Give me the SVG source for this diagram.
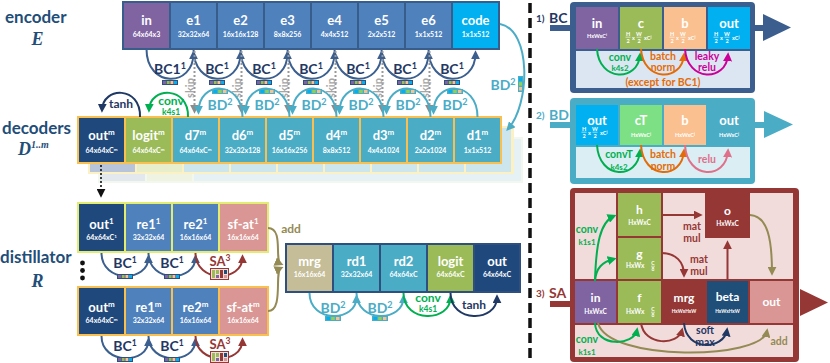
<svg xmlns="http://www.w3.org/2000/svg" width="830" height="363" viewBox="0 0 830 363">
<defs>
<style>
text{font-family:Lato,"Liberation Sans",Arial,sans-serif;font-weight:bold}
.c{text-anchor:middle}
.w{fill:#fff}
.L{font-size:13px}
.M{font-size:12px}
.N{font-size:10.5px}
.S{font-size:7px}
.T{font-size:5.5px}
.U{font-size:4.8px}
.lab{font-size:17px;fill:#1f4e79}
.it{font-family:"Liberation Serif","DejaVu Serif",serif;font-style:italic;font-weight:bold;fill:#1f4e79}
.a{fill:none;stroke-width:2}
.nb{stroke:#3b5f8f}
.tl{stroke:#4bacc6}
.gr{stroke:#00b050}
.nv{stroke:#1f3864}
.dr{stroke:#953735}
.ol{stroke:#948a54}
.or{stroke:#e36c09}
.mg{stroke:#cc0099}
.pk{stroke:#e0708a}
.fbc{fill:#1f3864;font-size:14px}
.fbd{fill:#4bacc6;font-size:14px}
.fgr{fill:#00b050}
.fnv{fill:#1f3864}
.fdr{fill:#953735}
.fol{fill:#948a54}
.for{fill:#e36c09}
.fmg{fill:#cc0099}
.fpk{fill:#e0708a}
.skip{fill:none;stroke:#999;stroke-width:2;stroke-dasharray:2 2}
.skt{fill:#a6a6a6;font-size:11px}
.fl{stroke:#fff;stroke-width:0.6}
</style>
<marker id="mNb" viewBox="0 0 10 10" refX="7" refY="5" markerWidth="9" markerHeight="9" markerUnits="userSpaceOnUse" orient="auto"><path d="M0,0L10,5L0,10z" fill="#3b5f8f"/></marker>
<marker id="mTl" viewBox="0 0 10 10" refX="7" refY="5" markerWidth="9" markerHeight="9" markerUnits="userSpaceOnUse" orient="auto"><path d="M0,0L10,5L0,10z" fill="#4bacc6"/></marker>
<marker id="mGr" viewBox="0 0 10 10" refX="7" refY="5" markerWidth="9" markerHeight="9" markerUnits="userSpaceOnUse" orient="auto"><path d="M0,0L10,5L0,10z" fill="#00b050"/></marker>
<marker id="mNv" viewBox="0 0 10 10" refX="7" refY="5" markerWidth="9" markerHeight="9" markerUnits="userSpaceOnUse" orient="auto"><path d="M0,0L10,5L0,10z" fill="#1f3864"/></marker>
<marker id="mDr" viewBox="0 0 10 10" refX="7" refY="5" markerWidth="9" markerHeight="9" markerUnits="userSpaceOnUse" orient="auto"><path d="M0,0L10,5L0,10z" fill="#953735"/></marker>
<marker id="mOl" viewBox="0 0 10 10" refX="7" refY="5" markerWidth="9" markerHeight="9" markerUnits="userSpaceOnUse" orient="auto"><path d="M0,0L10,5L0,10z" fill="#948a54"/></marker>
<marker id="mOr" viewBox="0 0 10 10" refX="7" refY="5" markerWidth="9" markerHeight="9" markerUnits="userSpaceOnUse" orient="auto"><path d="M0,0L10,5L0,10z" fill="#e36c09"/></marker>
<marker id="mMg" viewBox="0 0 10 10" refX="7" refY="5" markerWidth="9" markerHeight="9" markerUnits="userSpaceOnUse" orient="auto"><path d="M0,0L10,5L0,10z" fill="#cc0099"/></marker>
<marker id="mPk" viewBox="0 0 10 10" refX="7" refY="5" markerWidth="9" markerHeight="9" markerUnits="userSpaceOnUse" orient="auto"><path d="M0,0L10,5L0,10z" fill="#e0708a"/></marker>
<marker id="mGy" viewBox="0 0 10 10" refX="7" refY="5" markerWidth="9" markerHeight="9" markerUnits="userSpaceOnUse" orient="auto"><path d="M0,0L10,5L0,10z" fill="#8c8c8c"/></marker>
<marker id="mBk" viewBox="0 0 10 10" refX="7" refY="5" markerWidth="9" markerHeight="9" markerUnits="userSpaceOnUse" orient="auto"><path d="M0,0L10,5L0,10z" fill="#111"/></marker>
<g id="bcs"><rect width="16" height="5" fill="#2f4f7f"/><rect x="1" y="1" width="3" height="3" fill="#8064a2"/><rect x="4.7" y="1" width="3" height="3" fill="#9bbb59"/><rect x="8.4" y="1" width="3" height="3" fill="#fac090"/><rect x="12" y="1" width="3" height="3" fill="#00b0f0"/></g>
<g id="bds"><rect width="16" height="5" fill="#4bacc6"/><rect x="1.5" y="1" width="3.5" height="3" fill="#00b0f0"/><rect x="6.2" y="1" width="3.5" height="3" fill="#92d050"/><rect x="11" y="1" width="3.5" height="3" fill="#fac090"/></g>
<g id="sai"><rect x="0.5" y="0.5" width="18" height="11" fill="#f2dcdb" stroke="#953735"/><rect x="2" y="2" width="3" height="8" fill="#9bbb59"/><rect x="6" y="2" width="3" height="4" fill="#9bbb59"/><rect x="6" y="7" width="3" height="3" fill="#8064a2"/><rect x="10" y="2" width="3" height="8" fill="#953735"/><rect x="14" y="2" width="3" height="4" fill="#1f4e79"/><rect x="14" y="7" width="3" height="3" fill="#d99694"/></g>
<g id="frac"><text class="c w T" x="-13" y="36">H</text><line class="fl" x1="-15.5" y1="37.2" x2="-10.5" y2="37.2"/><text class="c w T" x="-13" y="42.5">2</text><text class="c w T" x="-7.5" y="39.5">x</text><text class="c w T" x="-2" y="36">W</text><line class="fl" x1="-4.5" y1="37.2" x2="0.5" y2="37.2"/><text class="c w T" x="-2" y="42.5">2</text><text class="w T" x="3" y="39.5">xC<tspan font-size="4" dy="-2">j</tspan></text></g>
</defs>

<!-- left labels -->
<g id="labels">
<text class="lab" x="5" y="23">encoder</text>
<text class="it c" x="37.5" y="45" font-size="18">E</text>
<text class="lab" x="2" y="134">decoders</text>
<text class="it" x="18" y="155" font-size="18">D<tspan font-size="10" dy="-7">1..m</tspan></text>
<text class="lab" x="0" y="263">distillator</text>
<text class="it c" x="37.5" y="287" font-size="18">R</text>
</g>

<!-- encoder -->
<g id="encoder">
<rect x="122" y="1" width="378" height="49" fill="#385d8a"/>
<g id="enc-in"><rect x="124" y="3" width="45" height="45" fill="#8064a2"/><text class="c w L" x="146.5" y="25">in</text><text class="c w S" x="146.5" y="37">64x64x3</text></g>
<g id="enc-e1"><rect x="171" y="3" width="45" height="45" fill="#4f81bd"/><text class="c w L" x="193.5" y="25">e1</text><text class="c w S" x="193.5" y="37">32x32x64</text></g>
<g id="enc-e2"><rect x="218" y="3" width="45" height="45" fill="#4f81bd"/><text class="c w L" x="240.5" y="25">e2</text><text class="c w S" x="240.5" y="37">16x16x128</text></g>
<g id="enc-e3"><rect x="265" y="3" width="45" height="45" fill="#4f81bd"/><text class="c w L" x="287.5" y="25">e3</text><text class="c w S" x="287.5" y="37">8x8x256</text></g>
<g id="enc-e4"><rect x="312" y="3" width="45" height="45" fill="#4f81bd"/><text class="c w L" x="334.5" y="25">e4</text><text class="c w S" x="334.5" y="37">4x4x512</text></g>
<g id="enc-e5"><rect x="359" y="3" width="45" height="45" fill="#4f81bd"/><text class="c w L" x="381.5" y="25">e5</text><text class="c w S" x="381.5" y="37">2x2x512</text></g>
<g id="enc-e6"><rect x="406" y="3" width="45" height="45" fill="#4f81bd"/><text class="c w L" x="428.5" y="25">e6</text><text class="c w S" x="428.5" y="37">1x1x512</text></g>
<g id="enc-code"><rect x="453" y="3" width="45" height="45" fill="#00b0f0"/><text class="c w L" x="475.5" y="25">code</text><text class="c w S" x="475.5" y="37">1x1x512</text></g>
</g>

<!-- decoder shadow layers -->
<g id="decoder-stack">
<rect x="98" y="137" width="425" height="46" fill="#f3f8ee"/>
<rect x="100" y="139" width="45" height="42" fill="#e3e8ef"/><rect x="147" y="139" width="45" height="42" fill="#eef3e2"/>
<rect x="194" y="139" width="327" height="42" fill="#e6f1f5"/>
<rect x="88" y="126" width="426" height="48" fill="#fbf1c4"/>
<rect x="90" y="128" width="45" height="44" fill="#b8c4d9"/><rect x="137" y="128" width="45" height="44" fill="#e8eecb"/>
<rect x="184" y="128" width="45" height="44" fill="#cde6ee"/><rect x="231" y="128" width="45" height="44" fill="#cde6ee"/><rect x="278" y="128" width="45" height="44" fill="#cde6ee"/><rect x="325" y="128" width="45" height="44" fill="#cde6ee"/><rect x="372" y="128" width="45" height="44" fill="#cde6ee"/><rect x="419" y="128" width="45" height="44" fill="#cde6ee"/><rect x="466" y="128" width="45" height="44" fill="#cde6ee"/>
</g>

<!-- decoder -->
<g id="decoder">
<rect x="77" y="116" width="425" height="48" fill="#f9c04f"/>
<g id="dec-out"><rect x="79" y="118" width="45" height="44" fill="#1f497d"/><text class="c w L" x="101.5" y="140">out<tspan font-size="8" dy="-5">m</tspan></text><text class="c w S" x="101.5" y="153">64x64xC<tspan font-size="4.5" dy="-2.5">m</tspan></text></g>
<g id="dec-logit"><rect x="126" y="118" width="45" height="44" fill="#9bbb59"/><text class="c w L" x="148.5" y="140">logit<tspan font-size="8" dy="-5">m</tspan></text><text class="c w S" x="148.5" y="153">64x64xC<tspan font-size="4.5" dy="-2.5">m</tspan></text></g>
<g id="dec-d7"><rect x="173" y="118" width="45" height="44" fill="#4bacc6"/><text class="c w L" x="195.5" y="140">d7<tspan font-size="8" dy="-5">m</tspan></text><text class="c w S" x="195.5" y="153">64x64xC<tspan font-size="4.5" dy="-2.5">m</tspan></text></g>
<g id="dec-d6"><rect x="220" y="118" width="45" height="44" fill="#4bacc6"/><text class="c w L" x="242.5" y="140">d6<tspan font-size="8" dy="-5">m</tspan></text><text class="c w S" x="242.5" y="153">32x32x128</text></g>
<g id="dec-d5"><rect x="267" y="118" width="45" height="44" fill="#4bacc6"/><text class="c w L" x="289.5" y="140">d5<tspan font-size="8" dy="-5">m</tspan></text><text class="c w S" x="289.5" y="153">16x16x256</text></g>
<g id="dec-d4"><rect x="314" y="118" width="45" height="44" fill="#4bacc6"/><text class="c w L" x="336.5" y="140">d4<tspan font-size="8" dy="-5">m</tspan></text><text class="c w S" x="336.5" y="153">8x8x512</text></g>
<g id="dec-d3"><rect x="361" y="118" width="45" height="44" fill="#4bacc6"/><text class="c w L" x="383.5" y="140">d3<tspan font-size="8" dy="-5">m</tspan></text><text class="c w S" x="383.5" y="153">4x4x1024</text></g>
<g id="dec-d2"><rect x="408" y="118" width="45" height="44" fill="#4bacc6"/><text class="c w L" x="430.5" y="140">d2<tspan font-size="8" dy="-5">m</tspan></text><text class="c w S" x="430.5" y="153">2x2x1024</text></g>
<g id="dec-d1"><rect x="455" y="118" width="45" height="44" fill="#4bacc6"/><text class="c w L" x="477.5" y="140">d1<tspan font-size="8" dy="-5">m</tspan></text><text class="c w S" x="477.5" y="153">1x1x512</text></g>
</g>

<!-- distillator row 1 -->
<g id="dist-row1">
<rect x="77" y="202" width="192" height="51" fill="#e2ec70"/>
<g id="r1-out"><rect x="79" y="204" width="45" height="47" fill="#1f497d"/><text class="c w L" x="101.5" y="229">out<tspan font-size="8" dy="-5">1</tspan></text><text class="c w S" x="101.5" y="240">64x64xC<tspan font-size="4.5" dy="-2.5">1</tspan></text></g>
<g id="r1-re1"><rect x="126" y="204" width="45" height="47" fill="#4f81bd"/><text class="c w L" x="148.5" y="229">re1<tspan font-size="8" dy="-5">1</tspan></text><text class="c w S" x="148.5" y="240">32x32x64</text></g>
<g id="r1-re2"><rect x="173" y="204" width="45" height="47" fill="#4f81bd"/><text class="c w L" x="195.5" y="229">re2<tspan font-size="8" dy="-5">1</tspan></text><text class="c w S" x="195.5" y="240">16x16x64</text></g>
<g id="r1-sfat"><rect x="220" y="204" width="47" height="47" fill="#d99694"/><text class="c w L" x="243" y="229">sf-at<tspan font-size="8" dy="-5">1</tspan></text><text class="c w S" x="243" y="240">16x16x64</text></g>
</g>
<g id="dots"><circle cx="82.5" cy="263" r="2.4" fill="#111"/><circle cx="82.5" cy="270.5" r="2.4" fill="#111"/><circle cx="82.5" cy="278" r="2.4" fill="#111"/></g>
<!-- distillator row m -->
<g id="dist-rowm">
<rect x="77" y="286" width="192" height="50" fill="#f9c04f"/>
<g id="rm-out"><rect x="79" y="288" width="45" height="46" fill="#1f497d"/><text class="c w L" x="101.5" y="312">out<tspan font-size="8" dy="-5">m</tspan></text><text class="c w S" x="101.5" y="323">64x64xC<tspan font-size="4.5" dy="-2.5">m</tspan></text></g>
<g id="rm-re1"><rect x="126" y="288" width="45" height="46" fill="#4f81bd"/><text class="c w L" x="148.5" y="312">re1<tspan font-size="8" dy="-5">m</tspan></text><text class="c w S" x="148.5" y="323">32x32x64</text></g>
<g id="rm-re2"><rect x="173" y="288" width="45" height="46" fill="#4f81bd"/><text class="c w L" x="195.5" y="312">re2<tspan font-size="8" dy="-5">m</tspan></text><text class="c w S" x="195.5" y="323">16x16x64</text></g>
<g id="rm-sfat"><rect x="220" y="288" width="47" height="46" fill="#d99694"/><text class="c w L" x="243" y="312">sf-at<tspan font-size="8" dy="-5">m</tspan></text><text class="c w S" x="243" y="323">16x16x64</text></g>
</g>

<!-- final row -->
<g id="final-row">
<rect x="285" y="243" width="236" height="50" fill="#2f4f7f"/>
<g id="f-mrg"><rect x="287" y="245" width="45" height="46" fill="#c4bd97"/><text class="c w L" x="309.5" y="266">mrg</text><text class="c w S" x="309.5" y="277">16x16x64</text></g>
<g id="f-rd1"><rect x="334" y="245" width="45" height="46" fill="#4bacc6"/><text class="c w L" x="356.5" y="266">rd1</text><text class="c w S" x="356.5" y="277">32x32x64</text></g>
<g id="f-rd2"><rect x="381" y="245" width="45" height="46" fill="#4bacc6"/><text class="c w L" x="403.5" y="266">rd2</text><text class="c w S" x="403.5" y="277">64x64xC</text></g>
<g id="f-logit"><rect x="428" y="245" width="45" height="46" fill="#9bbb59"/><text class="c w L" x="450.5" y="266">logit</text><text class="c w S" x="450.5" y="277">64x64xC</text></g>
<g id="f-out"><rect x="475" y="245" width="44" height="46" fill="#1f497d"/><text class="c w L" x="497" y="266">out</text><text class="c w S" x="497" y="277">64x64xC</text></g>
</g>

<!-- connectors -->
<g id="connectors">
<path class="a nb" marker-end="url(#mNb)" d="M146.5,49C146.5,88 193.5,88 193.5,53"/>
<path class="a nb" marker-end="url(#mNb)" d="M193.5,49C193.5,88 240.5,88 240.5,53"/>
<path class="a nb" marker-end="url(#mNb)" d="M240.5,49C240.5,88 287.5,88 287.5,53"/>
<path class="a nb" marker-end="url(#mNb)" d="M287.5,49C287.5,88 334.5,88 334.5,53"/>
<path class="a nb" marker-end="url(#mNb)" d="M334.5,49C334.5,88 381.5,88 381.5,53"/>
<path class="a nb" marker-end="url(#mNb)" d="M381.5,49C381.5,88 428.5,88 428.5,53"/>
<path class="a nb" marker-end="url(#mNb)" d="M428.5,49C428.5,88 475.5,88 475.5,53"/>
<text class="c fbc" x="170" y="74">BC1<tspan font-size="9" dy="-5">1</tspan></text>
<text class="c fbc" x="217" y="74">BC<tspan font-size="9" dy="-5">1</tspan></text>
<text class="c fbc" x="264" y="74">BC<tspan font-size="9" dy="-5">1</tspan></text>
<text class="c fbc" x="311" y="74">BC<tspan font-size="9" dy="-5">1</tspan></text>
<text class="c fbc" x="358" y="74">BC<tspan font-size="9" dy="-5">1</tspan></text>
<text class="c fbc" x="405" y="74">BC<tspan font-size="9" dy="-5">1</tspan></text>
<text class="c fbc" x="452" y="74">BC<tspan font-size="9" dy="-5">1</tspan></text>
<use href="#bcs" x="162" y="80"/><use href="#bcs" x="209" y="80"/><use href="#bcs" x="256" y="80"/><use href="#bcs" x="303" y="80"/><use href="#bcs" x="350" y="80"/><use href="#bcs" x="397" y="80"/><use href="#bcs" x="444" y="80"/>
<path class="skip" marker-end="url(#mGy)" d="M194.5,51V111"/>
<path class="skip" marker-end="url(#mGy)" d="M241.5,51V111"/>
<path class="skip" marker-end="url(#mGy)" d="M288.5,51V111"/>
<path class="skip" marker-end="url(#mGy)" d="M335.5,51V111"/>
<path class="skip" marker-end="url(#mGy)" d="M382.5,51V111"/>
<path class="skip" marker-end="url(#mGy)" d="M429.5,51V111"/>
<text class="c skt" transform="translate(194,88) rotate(-90)">skip</text>
<text class="c skt" transform="translate(241,88) rotate(-90)">skip</text>
<text class="c skt" transform="translate(288,88) rotate(-90)">skip</text>
<text class="c skt" transform="translate(335,88) rotate(-90)">skip</text>
<text class="c skt" transform="translate(382,88) rotate(-90)">skip</text>
<text class="c skt" transform="translate(429,88) rotate(-90)">skip</text>
<path class="a tl" marker-end="url(#mTl)" d="M477.5,117C477.5,80 433.5,80 433.5,112"/>
<path class="a tl" marker-end="url(#mTl)" d="M430.5,117C430.5,80 386.5,80 386.5,112"/>
<path class="a tl" marker-end="url(#mTl)" d="M383.5,117C383.5,80 339.5,80 339.5,112"/>
<path class="a tl" marker-end="url(#mTl)" d="M336.5,117C336.5,80 292.5,80 292.5,112"/>
<path class="a tl" marker-end="url(#mTl)" d="M289.5,117C289.5,80 245.5,80 245.5,112"/>
<path class="a tl" marker-end="url(#mTl)" d="M242.5,117C242.5,80 198.5,80 198.5,112"/>
<text class="c fbd" x="455" y="110">BD<tspan font-size="9" dy="-5">2</tspan></text>
<text class="c fbd" x="408" y="110">BD<tspan font-size="9" dy="-5">2</tspan></text>
<text class="c fbd" x="361" y="110">BD<tspan font-size="9" dy="-5">2</tspan></text>
<text class="c fbd" x="314" y="110">BD<tspan font-size="9" dy="-5">2</tspan></text>
<text class="c fbd" x="267" y="110">BD<tspan font-size="9" dy="-5">2</tspan></text>
<text class="c fbd" x="220" y="110">BD<tspan font-size="9" dy="-5">2</tspan></text>
<use href="#bds" x="447" y="89"/><use href="#bds" x="400" y="89"/><use href="#bds" x="353" y="89"/><use href="#bds" x="306" y="89"/><use href="#bds" x="259" y="89"/><use href="#bds" x="212" y="89"/>
<path class="a tl" marker-end="url(#mTl)" d="M500,24C532,30 530,105 508,129"/>
<text class="c fbd" x="503" y="90">BD<tspan font-size="9" dy="-5">2</tspan></text>
<use href="#bds" transform="translate(523,76) rotate(90)"/>
<path class="a gr" marker-end="url(#mGr)" d="M188,117C189,86 150,86 149,110"/>
<text class="c fgr M" x="171" y="105">conv</text>
<text class="c fgr" font-size="8.5" x="171" y="115">k4s1</text>
<path class="a nv" marker-end="url(#mNv)" d="M140,117C141,86 103,86 102,110"/>
<text class="c fnv M" x="121" y="108">tanh</text>
<path fill="none" stroke="#111" stroke-width="1.6" stroke-dasharray="2 2" marker-end="url(#mBk)" d="M101,165V195"/>
<path class="a nb" marker-end="url(#mNb)" d="M101.5,253C101.5,283 148.5,283 148.5,257"/>
<path class="a nb" marker-end="url(#mNb)" d="M148.5,253C148.5,283 195.5,283 195.5,257"/>
<path class="a dr" marker-end="url(#mDr)" d="M195.5,253C195.5,283 242.5,283 242.5,257"/>
<text class="c fbc" font-size="13" x="125" y="268">BC<tspan font-size="8.5" dy="-5">1</tspan></text>
<text class="c fbc" font-size="13" x="172" y="268">BC<tspan font-size="8.5" dy="-5">1</tspan></text>
<text class="c fdr" font-size="13" x="220" y="266">SA<tspan font-size="8.5" dy="-5">3</tspan></text>
<use href="#bcs" x="117" y="274"/><use href="#bcs" x="164" y="274"/><use href="#sai" x="210" y="268"/>
<path class="a nb" marker-end="url(#mNb)" d="M101.5,336C101.5,365 148.5,365 148.5,340"/>
<path class="a nb" marker-end="url(#mNb)" d="M148.5,336C148.5,365 195.5,365 195.5,340"/>
<path class="a dr" marker-end="url(#mDr)" d="M195.5,336C195.5,365 242.5,365 242.5,340"/>
<text class="c fbc" font-size="13" x="125" y="351">BC<tspan font-size="8.5" dy="-5">1</tspan></text>
<text class="c fbc" font-size="13" x="172" y="351">BC<tspan font-size="8.5" dy="-5">1</tspan></text>
<text class="c fdr" font-size="13" x="220" y="349">SA<tspan font-size="8.5" dy="-5">3</tspan></text>
<use href="#bcs" x="117" y="357"/><use href="#bcs" x="164" y="357"/><use href="#sai" x="210" y="351"/>
<path class="a ol" marker-end="url(#mOl)" d="M268,228C284,228 274,261 281,264"/>
<path class="a ol" marker-end="url(#mOl)" d="M268,311C284,311 274,271 281,268"/>
<text class="c fol M" x="291" y="233">add</text>
<path class="a tl" marker-end="url(#mTl)" d="M309.5,293C309.5,323 356.5,323 356.5,297"/>
<path class="a tl" marker-end="url(#mTl)" d="M356.5,293C356.5,323 403.5,323 403.5,297"/>
<path class="a gr" marker-end="url(#mGr)" d="M403.5,293C403.5,323 450.5,323 450.5,297"/>
<path class="a nv" marker-end="url(#mNv)" d="M450.5,293C450.5,323 497,323 497,297"/>
<text class="c fbd" x="333" y="313">BD<tspan font-size="9" dy="-5">2</tspan></text>
<text class="c fbd" x="380" y="313">BD<tspan font-size="9" dy="-5">2</tspan></text>
<use href="#bds" x="325" y="316"/><use href="#bds" x="372" y="316"/>
<text class="c fgr M" x="428" y="302">conv</text>
<text class="c fgr" font-size="8.5" x="428" y="312">k4s1</text>
<text class="c fnv M" x="474" y="309">tanh</text>
</g>

<line x1="530" y1="3" x2="530" y2="362" stroke="#111" stroke-width="3.5" stroke-dasharray="10 5"/>

<!-- BC panel -->
<g id="panel-bc">
<rect x="550" y="25" width="22" height="6" fill="#3b5e8f"/>
<rect x="753" y="25" width="12" height="6" fill="#3b5e8f"/>
<path d="M763,14L791,27.5L763,41z" fill="#3b5e8f"/>
<rect x="570" y="2" width="185" height="91" rx="4" fill="#3b5e8f"/>
<text class="fnv" font-size="10" x="536" y="22">1)</text><text class="fnv" font-size="14" x="549" y="23">BC</text>
<rect x="576" y="51" width="174" height="37" fill="#dce6f2"/>
<rect x="576" y="7" width="42" height="42" fill="#8064a2"/>
<rect x="620" y="7" width="42" height="42" fill="#9bbb59"/>
<rect x="664" y="7" width="42" height="42" fill="#fac090"/>
<rect x="708" y="7" width="42" height="42" fill="#00b0f0"/>
<text class="c w L" x="597" y="28">in</text><text class="c w T" x="597" y="38">HxWxC<tspan font-size="4" dy="-2">i</tspan></text>
<text class="c w L" x="641" y="28">c</text><use href="#frac" x="641"/>
<text class="c w L" x="685" y="28">b</text><use href="#frac" x="685"/>
<text class="c w L" x="729" y="28">out</text><use href="#frac" x="729"/>
<path class="a gr" marker-end="url(#mGr)" d="M597,49C599,82 638,82 640,55"/>
<path class="a or" marker-end="url(#mOr)" d="M641,49C643,82 682,82 684,55"/>
<path class="a mg" marker-end="url(#mMg)" d="M685,49C687,82 726,82 728,55"/>
<text class="c fgr N" x="620" y="61">conv</text><text class="c fgr" font-size="8" x="620" y="71">k4s2</text>
<text class="c for N" x="663" y="60">batch</text><text class="c for N" x="663" y="71">norm</text>
<text class="c fmg N" x="707" y="60">leaky</text><text class="c fmg N" x="707" y="71">relu</text>
<text class="c for N" x="663" y="86">(except for BC1)</text>
</g>

<!-- BD panel -->
<g id="panel-bd">
<rect x="550" y="122" width="22" height="6" fill="#4bacc6"/>
<rect x="753" y="122" width="13" height="6" fill="#4bacc6"/>
<path d="M764,111L793,124.5L764,138z" fill="#4bacc6"/>
<rect x="570" y="98" width="185" height="86" rx="4" fill="#4bacc6"/>
<text fill="#4bacc6" font-size="10" x="536" y="119">2)</text><text fill="#4bacc6" font-size="14" x="549" y="120">BD</text>
<rect x="576" y="147" width="174" height="31" fill="#daeef3"/>
<rect x="576" y="105" width="42" height="40" fill="#00b0f0"/>
<rect x="620" y="105" width="42" height="40" fill="#7ee085"/>
<rect x="664" y="105" width="42" height="40" fill="#fac090"/>
<text class="c w L" x="597" y="125">out</text><use href="#frac" x="597" y="95"/>
<text class="c w L" x="641" y="125">cT</text><text class="c w T" x="641" y="137">HxWxC<tspan font-size="4" dy="-2">j</tspan></text>
<text class="c w L" x="685" y="125">b</text><text class="c w T" x="685" y="137">HxWxC<tspan font-size="4" dy="-2">j</tspan></text>
<text class="c w L" x="729" y="125">out</text><text class="c w T" x="729" y="137">HxWxC<tspan font-size="4" dy="-2">j</tspan></text>
<path class="a gr" marker-end="url(#mGr)" d="M597,145C599,180 638,180 640,151"/>
<path class="a or" marker-end="url(#mOr)" d="M641,145C643,180 682,180 684,151"/>
<path class="a pk" marker-end="url(#mPk)" d="M685,145C687,180 726,180 728,151"/>
<text class="c fgr N" x="619" y="158">convT</text><text class="c fgr" font-size="8" x="619" y="170">k4s2</text>
<text class="c for N" x="663" y="158">batch</text><text class="c for N" x="663" y="170">norm</text>
<text class="c fpk N" x="707" y="163">relu</text>
</g>

<!-- SA panel -->
<g id="panel-sa">
<rect x="550" y="301" width="22" height="6" fill="#953735"/>
<path d="M800,289L828,302.5L800,316z" fill="#953735"/>
<rect x="570" y="188" width="229" height="174" rx="4" fill="#953735"/>
<text class="fdr" font-size="10" x="536" y="297">3)</text><text class="fdr" font-size="14" x="549" y="298">SA</text>
<rect x="575" y="193" width="41" height="86" fill="#f2dcdb"/>
<rect x="663" y="193" width="130" height="86" fill="#f2dcdb"/>
<rect x="575" y="325" width="218" height="32" fill="#f2dcdb"/>
<g id="sa-h"><rect x="618" y="193" width="43" height="43" fill="#9bbb59"/><text class="c w M" x="639.5" y="214">h</text><text class="c w" font-size="6.5" x="639.5" y="225">HxWxC</text></g>
<g id="sa-g"><rect x="618" y="238" width="43" height="41" fill="#9bbb59"/><text class="c w M" x="639.5" y="258">g</text><text class="w" font-size="6.5" x="626" y="268">HxWx</text><text class="c w" font-size="5" x="653" y="265">C</text><line class="fl" x1="651" y1="266.2" x2="655" y2="266.2"/><text class="c w" font-size="5" x="653" y="271">8</text></g>
<g id="sa-o"><rect x="705" y="193" width="45" height="45" fill="#953735"/><text class="c w M" x="727.5" y="215">o</text><text class="c w" font-size="6.5" x="727.5" y="226">HxWxC</text></g>
<g id="sa-in"><rect x="575" y="281" width="41" height="42" fill="#8064a2"/><text class="c w M" x="595.5" y="302">in</text><text class="c w" font-size="6.5" x="595.5" y="314">HxWxC</text></g>
<g id="sa-f"><rect x="618" y="281" width="43" height="42" fill="#9bbb59"/><text class="c w M" x="639.5" y="302">f</text><text class="w" font-size="6.5" x="626" y="314">HxWx</text><text class="c w" font-size="5" x="653" y="311">C</text><line class="fl" x1="651" y1="312.2" x2="655" y2="312.2"/><text class="c w" font-size="5" x="653" y="317">8</text></g>
<g id="sa-mrg"><rect x="663" y="281" width="42" height="42" fill="#953735"/><text class="c w M" x="684" y="302">mrg</text><text class="c w U" x="684" y="313">HxWxHxW</text></g>
<g id="sa-beta"><rect x="707" y="281" width="41" height="42" fill="#1f4e79"/><text class="c w M" x="727.5" y="301">beta</text><text class="c w U" x="727.5" y="313">HxWxHxW</text></g>
<g id="sa-out"><rect x="750" y="281" width="43" height="42" fill="#d99694"/><text class="c w M" x="771.5" y="306">out</text></g>
<path class="a dr" marker-end="url(#mDr)" d="M661,215H700"/>
<text class="c fdr N" x="692" y="230">mat</text><text class="c fdr N" x="692" y="242">mul</text>
<path class="a dr" marker-end="url(#mDr)" d="M661,253C676,253 684,262 684,275"/>
<text class="c fdr N" x="699" y="263">mat</text><text class="c fdr N" x="699" y="275">mul</text>
<path class="a dr" marker-end="url(#mDr)" d="M727.5,281V243"/>
<path class="a ol" marker-end="url(#mOl)" d="M750,215C768,216 772,240 772,273"/>
<path class="a gr" marker-end="url(#mGr)" d="M595,281C596,245 600,222 614,216"/>
<path class="a gr" marker-end="url(#mGr)" d="M595,281C596,268 602,262 614,259"/>
<text class="c fgr N" x="587" y="233">conv</text><text class="c fgr" font-size="8" x="587" y="245">k1s1</text>
<path class="a ol" marker-end="url(#mOl)" d="M598,323C608,362 762,360 767,331"/>
<path class="a gr" marker-end="url(#mGr)" d="M595,323C596,348 634,346 637,330"/>
<path class="a dr" marker-end="url(#mDr)" d="M641,323C644,346 678,346 682,330"/>
<path class="a nv" marker-end="url(#mNv)" d="M684,323C686,352 724,350 727,330"/>
<text class="c fgr N" x="587" y="343">conv</text><text class="c fgr" font-size="8" x="587" y="355">k1s1</text>
<text class="c fnv N" x="705" y="334">soft</text><text class="c fnv N" x="705" y="346">max</text>
<text class="c fol N" x="779" y="345">add</text>
</g>
</svg>
